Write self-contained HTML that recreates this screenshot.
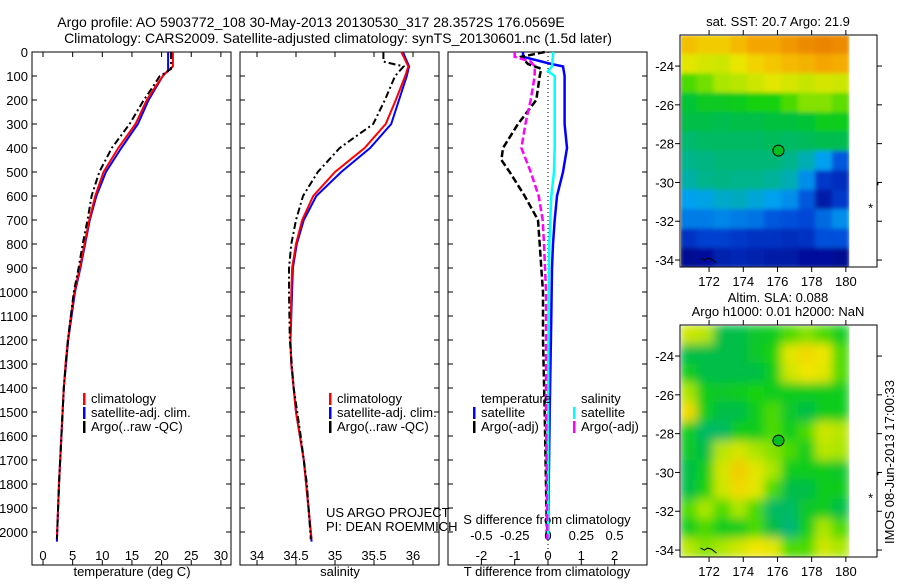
<!DOCTYPE html>
<html><head><meta charset="utf-8"><style>
body{margin:0;background:#fff}
svg text{font-family:"Liberation Sans",sans-serif;font-size:13px;fill:#000}
svg text.big{font-size:14px}
</style></head><body>
<svg id="fig" width="900" height="580" xmlns="http://www.w3.org/2000/svg">
<text class="big" x="311" y="27" text-anchor="middle">Argo profile: AO 5903772_108 30-May-2013 20130530_317 28.3572S 176.0569E</text>
<text class="big" x="338" y="43" text-anchor="middle">Climatology: CARS2009. Satellite-adjusted climatology: synTS_20130601.nc (1.5d later)</text>
<text x="778" y="26" text-anchor="middle">sat. SST: 20.7 Argo: 21.9</text>
<text x="778" y="302" text-anchor="middle">Altim. SLA: 0.088</text>
<text x="778" y="316" text-anchor="middle">Argo h1000: 0.01 h2000: NaN</text>
<text transform="translate(894,462) rotate(-90)" text-anchor="middle">IMOS 08-Jun-2013 17:00:33</text>
<g id="g"></g>
</svg>
<script>
// ---- data ----
const depthTicks=[0,100,200,300,400,500,600,700,800,900,1000,1100,1200,1300,1400,1500,1600,1700,1800,1900,2000];
const tempTicks=[0,5,10,15,20,25,30];
const salTicks=[34,34.5,35,35.5,36];
const salTickLabels=["34","34.5","35","35.5","36"];
const tdTicks=[-2,-1,0,1,2];
const sdTicks=[-0.5,-0.25,0,0.25,0.5];
const sdTickLabels=["-0.5","-0.25","0","0.25","0.5"];
const lonTicks=[172,174,176,178,180];
const latTicks=[-24,-26,-28,-30,-32,-34];

const tClimD=[0,60,80,100,150,200,300,400,500,600,700,800,900,1000,1100,1200,1300,1400,1600,1800,2000,2030];
const tClim=[21.9,21.9,21.0,20.2,18.8,17.5,15.6,12.7,10.2,8.8,7.8,7.0,6.2,5.3,4.7,4.2,3.8,3.5,3.1,2.7,2.4,2.35];
const tSatD=[0,80,90,100,150,200,300,400,500,600,700,800,900,1000,1200,1400,1600,1800,2000,2040];
const tSat=[21.1,21.1,20.5,20.2,19.0,17.8,16.0,13.2,10.6,9.0,7.9,7.1,6.3,5.4,4.25,3.5,3.1,2.7,2.4,2.35];
const tArgoD=[0,70,90,100,150,200,300,400,500,600,700,800,900,1000,1200,1400,1600,1800,2000,2030];
const tArgo=[21.6,21.6,20.4,19.7,18.4,17.0,14.6,11.6,9.5,8.2,7.5,6.7,6.0,5.2,4.2,3.5,3.1,2.7,2.4,2.35];

const sClimD=[0,60,100,200,300,400,500,600,700,800,900,1000,1200,1300,1500,1700,1900,2030];
const sClim=[35.85,35.94,35.9,35.78,35.65,35.38,35.0,34.72,34.58,34.5,34.45,34.44,34.43,34.44,34.5,34.6,34.66,34.7];
const sSatD=[0,60,100,200,300,400,500,600,700,800,900,1000,1200,1300,1500,1700,1900,2040];
const sSat=[35.87,35.95,35.92,35.82,35.72,35.45,35.08,34.76,34.6,34.51,34.46,34.45,34.43,34.44,34.5,34.6,34.66,34.7];
const sArgoD=[0,40,60,100,200,300,400,500,600,700,800,900,1000,1200,1400,1600,1800,2030];
const sArgo=[35.62,35.62,35.88,35.77,35.64,35.49,35.06,34.78,34.59,34.5,34.44,34.41,34.41,34.42,34.47,34.56,34.64,34.69];

const dTSatD=[0,20,50,60,100,200,300,400,500,600,700,800,900,1100,1500,2030];
const dTSat=[-0.75,-0.75,0.1,0.45,0.5,0.5,0.5,0.57,0.45,0.27,0.2,0.15,0.12,0.1,0.05,0.0];
const dTArgoD=[0,20,50,70,100,200,300,400,450,500,600,700,800,900,1000,1200,1500,2030];
const dTArgo=[-0.1,-0.8,-0.6,-0.2,-0.25,-0.35,-0.9,-1.35,-1.4,-1.15,-0.7,-0.3,-0.25,-0.2,-0.15,-0.15,-0.1,-0.03];
const dSSatD=[0,60,80,100,200,300,400,500,600,800,1000,1500,2030];
const dSSat=[0.04,0.03,0.0,0.05,0.05,0.05,0.05,0.045,0.025,0.01,0.005,0.0,0.0];
const dSArgoD=[0,20,40,60,100,200,300,400,500,600,700,800,1000,1500,2030];
const dSArgo=[-0.25,-0.25,-0.13,-0.1,-0.1,-0.13,-0.17,-0.2,-0.13,-0.07,-0.04,-0.03,-0.015,-0.015,-0.005];

const sstGrid=[
[0.76,0.74,0.74,0.77,0.8,0.8,0.82,0.84,0.85,0.84],
[0.68,0.66,0.65,0.69,0.73,0.75,0.77,0.78,0.8,0.79],
[0.55,0.57,0.6,0.62,0.65,0.68,0.66,0.64,0.66,0.65],
[0.47,0.49,0.49,0.5,0.52,0.52,0.55,0.58,0.58,0.56],
[0.45,0.45,0.44,0.45,0.45,0.46,0.46,0.47,0.5,0.5],
[0.41,0.42,0.42,0.42,0.42,0.43,0.42,0.43,0.44,0.44],
[0.38,0.39,0.4,0.4,0.4,0.4,0.38,0.35,0.3,0.22],
[0.36,0.38,0.39,0.38,0.38,0.37,0.35,0.28,0.18,0.16],
[0.3,0.31,0.33,0.34,0.32,0.3,0.28,0.22,0.13,0.18],
[0.26,0.26,0.27,0.26,0.25,0.22,0.21,0.2,0.24,0.28],
[0.17,0.19,0.19,0.18,0.17,0.17,0.16,0.17,0.21,0.21],
[0.09,0.11,0.14,0.15,0.14,0.13,0.13,0.11,0.11,0.09]];
const slaGrid=[
[0.65,0.62,0.45,0.45,0.48,0.5,0.55,0.58,0.55,0.5],
[0.45,0.45,0.45,0.45,0.48,0.52,0.68,0.72,0.7,0.55],
[0.5,0.45,0.45,0.45,0.45,0.5,0.65,0.7,0.68,0.55],
[0.6,0.5,0.48,0.5,0.52,0.5,0.5,0.5,0.5,0.5],
[0.72,0.5,0.45,0.45,0.5,0.55,0.48,0.45,0.5,0.5],
[0.5,0.42,0.42,0.5,0.5,0.55,0.5,0.55,0.65,0.62],
[0.48,0.45,0.62,0.66,0.6,0.58,0.55,0.5,0.62,0.6],
[0.45,0.5,0.66,0.74,0.68,0.6,0.5,0.5,0.5,0.48],
[0.45,0.52,0.65,0.72,0.68,0.55,0.45,0.45,0.5,0.5],
[0.55,0.6,0.55,0.6,0.55,0.42,0.42,0.48,0.5,0.45],
[0.5,0.55,0.5,0.5,0.55,0.45,0.4,0.5,0.6,0.55],
[0.62,0.58,0.6,0.65,0.7,0.68,0.55,0.55,0.65,0.6]];
const argoLon=176.0569, argoLat=-28.3572;

// ---- drawing ----
const NS="http://www.w3.org/2000/svg";
const G=document.getElementById('g');
function mk(tag,attrs,parent){const e=document.createElementNS(NS,tag);for(const k in attrs)e.setAttribute(k,attrs[k]);(parent||G).appendChild(e);return e;}
function txt(x,y,s,anchor){const t=mk('text',{x:x,y:y,'text-anchor':anchor||'start'});t.textContent=s;return t;}
const yTop=52, pxPer100=24;
const yD=d=>yTop+d*pxPer100/100;
const panels=[{x0:32,x1:231},{x0:240,x1:439},{x0:448,x1:647}];
const xT=v=>43+v*5.93;
const xS=v=>257+(v-34)*78;
const xTD=v=>548+v*33.3;
const xSD=v=>548+v*133.2;
const yB=565;

panels.forEach((p,i)=>{
  const r=mk('rect',{x:p.x0,y:yTop,width:p.x1-p.x0,height:yB-yTop,fill:'none',stroke:'#000','stroke-width':1});
  
  
  depthTicks.forEach(d=>{
    mk('line',{x1:p.x0,x2:p.x0+5,y1:yD(d),y2:yD(d),stroke:'#000'});
    mk('line',{x1:p.x1,x2:p.x1-5,y1:yD(d),y2:yD(d),stroke:'#000'});
  });
});
depthTicks.forEach(d=>{const t=txt(28,yD(d)+5,String(d),'end');});
function xticks(vals,labels,fx,p,ly,top){
  vals.forEach((v,i)=>{const x=fx(v);
    mk('line',{x1:x,x2:x,y1:yB,y2:yB-5,stroke:'#000'});
    if(top)mk('line',{x1:x,x2:x,y1:yTop,y2:yTop+5,stroke:'#000'});
    const t=txt(x,ly,labels[i],'middle');});
}
xticks(tempTicks,tempTicks.map(String),xT,panels[0],560,true);
xticks(salTicks,salTickLabels,xS,panels[1],560,true);
xticks(tdTicks,tdTicks.map(String),xTD,panels[2],560,false);
sdTicks.forEach((v,i)=>{const t=txt(xSD(v),540,sdTickLabels[i],'middle');});
let t;
t=txt(132,576,'temperature (deg C)','middle');
t=txt(340,576,'salinity','middle');
t=txt(547,576,'T difference from climatology','middle');
t=txt(547,524,'S difference from climatology','middle');
t=txt(326,517,'US ARGO PROJECT');
t=txt(326,531,'PI: DEAN ROEMMICH');
mk('line',{x1:548,x2:548,y1:yTop,y2:yB,stroke:'#000','stroke-dasharray':'1,3'});

function line(ds,vs,fx,color,dash,name,w){
  const pts=ds.map((d,i)=>fx(vs[i]).toFixed(1)+','+yD(d).toFixed(1)).join(' ');
  const a={points:pts,fill:'none',stroke:color,'stroke-width':w||2};
  if(dash)a['stroke-dasharray']=dash;
  const e=mk('polyline',a);
  
  
}
line(tSatD,tSat,xT,'#0000ff',null,'temp-satellite-line');
line(tClimD,tClim,xT,'#ff0000',null,'temp-climatology-line');
line(tArgoD,tArgo,xT,'#000',"7,3,2,3",'temp-argo-line');
line(sSatD,sSat,xS,'#0000ff',null,'salinity-satellite-line');
line(sClimD,sClim,xS,'#ff0000',null,'salinity-climatology-line');
line(sArgoD,sArgo,xS,'#000',"7,3,2,3",'salinity-argo-line');
line(dTSatD,dTSat,xTD,'#0000ff',null,'t-diff-satellite-line',2.5);
line(dTArgoD,dTArgo,xTD,'#000',"7,3",'t-diff-argo-line',2.5);
line(dSSatD,dSSat,xSD,'#00ffff',null,'s-diff-satellite-line',2.5);
line(dSArgoD,dSArgo,xSD,'#ff00ff',"7,3",'s-diff-argo-line',2.5);

function legend(x,y,items){items.forEach((it,i)=>{
  const yy=y+i*14;
  if(it[1]){const m=mk('rect',{x:x,y:yy-10,width:2.5,height:12,fill:it[1]});}
  const tt=txt(x+8,yy,it[0]);
});}
legend(83,403,[['climatology','#ff0000'],['satellite-adj. clim.','#0000ff'],['Argo(..raw -QC)','#000']]);
legend(329,403,[['climatology','#ff0000'],['satellite-adj. clim.','#0000ff'],['Argo(..raw -QC)','#000']]);
legend(473,403,[['temperature',null],['satellite','#0000ff'],['Argo(-adj)','#000']]);
legend(573,403,[['salinity',null],['satellite','#00ffff'],['Argo(-adj)','#ff00ff']]);

// maps
const cmap=[[0.05,[0,0,130]],[0.12,[0,20,160]],[0.2,[0,70,215]],[0.3,[0,160,240]],[0.38,[0,180,140]],[0.45,[0,190,70]],[0.52,[20,210,10]],[0.6,[170,230,0]],[0.7,[240,230,0]],[0.8,[245,165,0]],[0.9,[225,100,0]]];
function col(v){if(v<=cmap[0][0])return 'rgb('+cmap[0][1]+')';
  for(let i=1;i<cmap.length;i++){if(v<=cmap[i][0]){const a=cmap[i-1],b=cmap[i],f=(v-a[0])/(b[0]-a[0]);
    return 'rgb('+a[1].map((c,k)=>Math.round(c+(b[1][k]-c)*f)).join(',')+')';}}
  return 'rgb('+cmap[cmap.length-1][1]+')';}
const mx0=680,mx1=877, lonL=170.3, pxLon=17.1, pxLat=19.4, latT=-22.4;
const xLon=l=>mx0+(l-lonL)*pxLon;
function drawMap(y0,grid,name,blur){
  const yLat=la=>y0+(latT-la)*pxLat;
  const g=mk('g',{});
  
  
  const cp=mk('clipPath',{id:'cp'+name});
  mk('rect',{x:681,y:y0+1,width:xLon(180.2)-681,height:231},cp);
  const inner=mk('g',{'clip-path':'url(#cp'+name+')'},g);
  const cg=mk('g',{filter:blur?'url(#bl)':'url(#bl2)'},inner);
  const n=grid[0].length, dl=(180.2-lonL)/n;
  grid.forEach((row,r)=>row.forEach((v,c)=>{
    const x=xLon(lonL+c*dl), y=yLat(latT-r);
    const cell=mk('rect',{x:x-0.5,y:y-0.5,width:dl*pxLon+1,height:pxLat+1,fill:col(v)},cg);
    
    
  }));
  mk('rect',{x:mx0,y:y0,width:mx1-mx0,height:232,fill:'none',stroke:'#000'},g);
  lonTicks.forEach(l=>{const x=xLon(l);
    mk('line',{x1:x,x2:x,y1:y0,y2:y0-5,stroke:'#000'},g);
    mk('line',{x1:x,x2:x,y1:y0+232,y2:y0+237,stroke:'#000'},g);
    const tt=txt(x,y0+251,String(l),'middle');});
  latTicks.forEach(la=>{const y=yLat(la);
    mk('line',{x1:mx0,x2:mx0-5,y1:y,y2:y,stroke:'#000'},g);
    mk('line',{x1:mx1,x2:mx1+5,y1:y,y2:y,stroke:'#000'},g);
    const tt=txt(674,y+5,String(la),'end');});
  const c=mk('circle',{cx:xLon(argoLon),cy:yLat(argoLat),r:5.5,fill:'#00c020',stroke:'#000'},g);
  
  
  mk('path',{d:`M${xLon(171.5)},${yLat(-33.9)} l4,2 l3,-2 l4,1 l5,4`,fill:'none',stroke:'#000'},g);
  mk('text',{x:xLon(181.3),y:yLat(-31.4)+3,'font-size':'8'},g).textContent='*';
  mk('text',{x:xLon(181.8),y:yLat(-30.3)+3,'font-size':'7'},g).textContent='\'';
}
const defs=mk('defs',{});
const f=mk('filter',{id:'bl',x:'-5%',y:'-5%',width:'110%',height:'110%'},defs);
mk('feGaussianBlur',{stdDeviation:'5'},f);
const f2=mk('filter',{id:'bl2',x:'-5%',y:'-5%',width:'110%',height:'110%'},defs);
mk('feGaussianBlur',{stdDeviation:'2'},f2);
drawMap(35,sstGrid,'sst-map',false);
drawMap(325,slaGrid,'sla-map',true);
</script>
</body></html>
